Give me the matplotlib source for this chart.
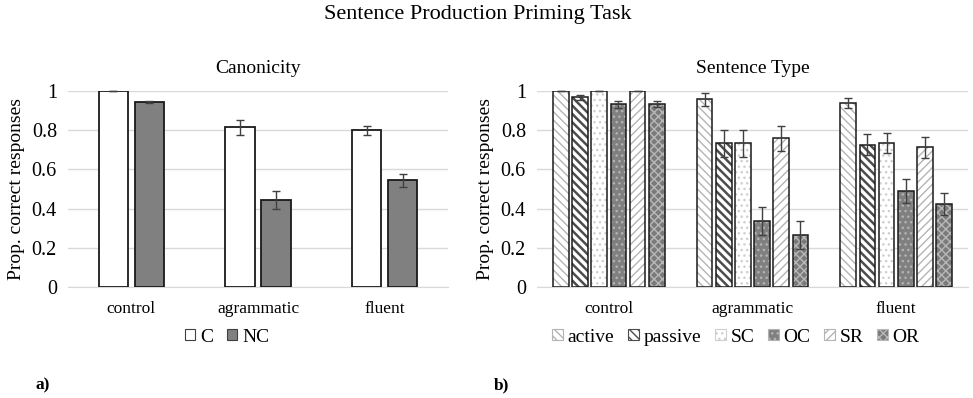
import matplotlib
matplotlib.use("Agg")
import matplotlib.pyplot as plt
import numpy as np
from matplotlib.patches import Patch

plt.rcParams['font.family'] = ['Liberation Serif', 'DejaVu Serif']
plt.rcParams['hatch.linewidth'] = 1.0

groups = ["control", "agrammatic", "fluent"]

# Canonicity
canon_series = ["C", "NC"]
canon_vals = {"C": [1.0, 0.814, 0.799], "NC": [0.945, 0.443, 0.545]}
canon_err = {"C": [0.001, 0.036, 0.024], "NC": [0.006, 0.045, 0.033]}

# Sentence Type
type_series = ["active", "passive", "SC", "OC", "SR", "OR"]
type_vals = {
    "active": [1.0, 0.957, 0.940],
    "passive": [0.968, 0.733, 0.726],
    "SC": [1.0, 0.733, 0.736],
    "OC": [0.932, 0.336, 0.489],
    "SR": [1.0, 0.758, 0.712],
    "OR": [0.932, 0.266, 0.424],
}
type_err = {
    "active": [0.001, 0.035, 0.025],
    "passive": [0.013, 0.070, 0.054],
    "SC": [0.001, 0.070, 0.050],
    "OC": [0.017, 0.070, 0.060],
    "SR": [0.001, 0.065, 0.055],
    "OR": [0.015, 0.070, 0.058],
}

yticks = [0, 0.2, 0.4, 0.6, 0.8, 1]
yticklabels = ["0", "0.2", "0.4", "0.6", "0.8", "1"]

# style: facecolor, hatch, hatchcolor, hatch linewidth
canon_style = {"C": ("white", None, None, 1.0), "NC": ("#808080", None, None, 1.0)}
type_style = {
    "active": ("white", "\\\\\\\\", "#b4b4b4", 1.0),
    "passive": ("white", "\\\\\\\\", "#4d4d4d", 1.8),
    "SC": ("white", "...", "#cfcfcf", 1.0),
    "OC": ("#808080", "...", "#b3b3b3", 1.0),
    "SR": ("white", "////", "#b4b4b4", 1.0),
    "OR": ("#7a7a7a", "xxxx", "#b8b8b8", 1.0),
}

fig = plt.figure(figsize=(9.73, 3.98), dpi=100)
W, H = 973, 398


def make_ax(x0, x1, y0, y1):
    return fig.add_axes([x0 / W, 1 - y1 / H, (x1 - x0) / W, (y1 - y0) / H])


def style_ax(ax):
    ax.set_ylim(0, 1)
    ax.set_xlim(-0.5, 2.5)
    ax.set_yticks(yticks)
    ax.set_yticklabels(yticklabels, fontsize=14.5)
    ax.set_xticks(range(len(groups)))
    ax.set_xticklabels(groups, fontsize=12.5)
    ax.tick_params(length=0, pad=8)
    ax.tick_params(axis='x', pad=10)
    ax.grid(axis='y', color='#d9d9d9', linewidth=1)
    ax.set_axisbelow(True)
    for s in ['top', 'right', 'left']:
        ax.spines[s].set_visible(False)
    ax.spines['bottom'].set_color('#d9d9d9')
    ax.set_ylabel("Prop. correct responses", fontsize=14, labelpad=5)


def draw_bars(ax, series, vals, errs, styles, width, step, lw):
    x = np.arange(len(groups))
    n = len(series)
    handles = []
    for i, s in enumerate(series):
        pos = x + (i - (n - 1) / 2) * step
        fc, hatch, hc, hlw = styles[s]
        ax.bar(pos, vals[s], width, color=fc, linewidth=0, zorder=2)
        with plt.rc_context({'hatch.linewidth': hlw}):
            if hatch:
                ax.bar(pos, vals[s], width, fill=False, hatch=hatch,
                       edgecolor=hc, linewidth=0, zorder=3)
            handles.append(Patch(facecolor=fc, hatch=hatch,
                                 edgecolor=hc if hatch else '#404040',
                                 linewidth=0.8, label=s))
        ax.bar(pos, vals[s], width, fill=False, edgecolor='#1a1a1a',
               linewidth=lw, zorder=4)
        eb = ax.errorbar(pos, vals[s], yerr=errs[s], fmt='none',
                         ecolor='#404040', elinewidth=1, capsize=3,
                         capthick=1, zorder=5)
        for c in eb.get_children():
            c.set_clip_on(False)
    return handles


leg_kw = dict(loc='center', frameon=False, fontsize=14, handlelength=0.55,
              handleheight=0.55, handletextpad=0.25, columnspacing=0.7)

# left panel
ax1 = make_ax(68, 448, 91, 287)
style_ax(ax1)
h1 = draw_bars(ax1, canon_series, canon_vals, canon_err, canon_style,
               width=0.23, step=0.285, lw=1.3)
ax1.set_title("Canonicity", fontsize=14, pad=13)
fig.legend(handles=h1, bbox_to_anchor=(227 / W, 1 - 337 / H), ncol=2, **leg_kw)

# right panel
ax2 = make_ax(537, 968, 91, 287)
style_ax(ax2)
h2 = draw_bars(ax2, type_series, type_vals, type_err, type_style,
               width=0.109, step=0.1335, lw=1.1)
ax2.set_title("Sentence Type", fontsize=14, pad=13)
fig.legend(handles=h2, bbox_to_anchor=(736 / W, 1 - 337 / H), ncol=6, **leg_kw)

fig.text(478 / W, 1 - 15 / H, "Sentence Production Priming Task",
         ha='center', va='center', fontsize=16)
fig.text(43 / W, 1 - 385 / H, "a)", ha='center', va='center',
         fontsize=12.5, fontweight='bold')
fig.text(502 / W, 1 - 385 / H, "b)", ha='center', va='center',
         fontsize=12.5, fontweight='bold')

fig.savefig("out.png", dpi=100)
